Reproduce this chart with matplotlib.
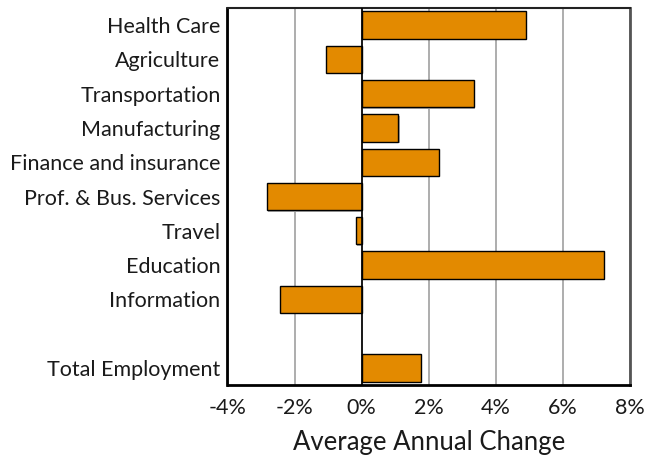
import matplotlib.pyplot as plt
import numpy as np

# industries, top to bottom; None leaves an empty row before the total
industries = ["Health Care", "Agriculture", "Transportation", "Manufacturing",
              "Finance and insurance", "Prof. & Bus. Services", "Travel",
              "Education", "Information", None, "Total Employment"]
changes = [4.9, -1.05, 3.35, 1.1, 2.3, -2.83, -0.18, 7.22, -2.44, None, 1.76]

xticks = [-4, -2, 0, 2, 4, 6, 8]

plt.rcParams['font.family'] = ['Lato', 'DejaVu Sans']

fig = plt.figure(figsize=(6.5, 4.57), dpi=100)
ax = fig.add_axes([0.35, 0.1575, 0.619, 0.825])

ypos = np.arange(len(industries))
for y, val in zip(ypos, changes):
    if val is None:
        continue
    # soft drop shadow under each bar
    ax.barh(y + 0.04, val, height=0.8, left=0.03, color="#b0b0b0", zorder=2)
    ax.barh(y, val, height=0.8, color="#e38a00", edgecolor="black",
            linewidth=1.0, zorder=3)

ax.axvline(0, color="black", linewidth=1.2, zorder=4)

ax.set_xlim(-4, 8)
ax.set_ylim(len(industries) - 0.5, -0.5)
ax.set_xticks(xticks)
ax.set_xticklabels([f"{t}%" for t in xticks], fontsize=15.5, color="#1a1a1a")
ax.set_yticks([y for y, n in zip(ypos, industries) if n])
ax.set_yticklabels([n for n in industries if n], fontsize=15.5, color="#1a1a1a")
ax.tick_params(length=0, pad=5)
ax.tick_params(axis="x", pad=9)

ax.grid(axis="x", color="#a0a0a0", linewidth=1.2, zorder=1)
ax.set_axisbelow(True)

for side in ["left", "bottom"]:
    ax.spines[side].set_linewidth(2.0)
    ax.spines[side].set_color("black")
ax.spines["top"].set_linewidth(1.5)
ax.spines["top"].set_color("#222222")
ax.spines["right"].set_linewidth(2.0)
ax.spines["right"].set_color("#555555")

ax.set_xlabel("Average Annual Change", fontsize=18.5, labelpad=9,
              color="#1a1a1a")

fig.savefig("out.png", dpi=100)
